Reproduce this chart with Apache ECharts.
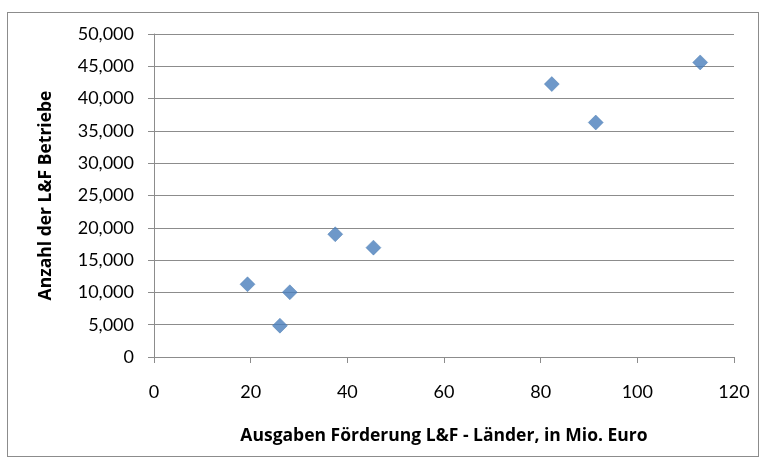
<!DOCTYPE html>
<html>
<head>
<meta charset="utf-8">
<script src="https://cdn.jsdelivr.net/npm/echarts@6/dist/echarts.min.js"></script>
<style>
  html, body { margin: 0; padding: 0; background: #ffffff; }
  #frame { position: absolute; left: 7px; top: 12px; width: 752px; height: 445px; border: 1px solid #8c8c8c; box-sizing: border-box; }
  #chart { position: absolute; left: 0; top: 0; width: 762px; height: 462px; }
</style>
</head>
<body>
<div id="frame"></div>
<div id="chart"></div>
<script>
// Förderausgaben der Länder (Mio. Euro) gegen Anzahl der L&F Betriebe
const ausgabenMioEuro = [19.35, 26.05, 28.1, 37.5, 45.4, 82.3, 91.4, 113.0];
const anzahlBetriebe  = [11260, 4850, 10020, 19000, 16930, 42250, 36300, 45600];

const xTicks = { min: 0, max: 120, interval: 20 };
const yTicks = { min: 0, max: 50000, interval: 5000 };

const xTitle = 'Ausgaben Förderung L&F - Länder, in Mio. Euro';
const yTitle = 'Anzahl der L&F Betriebe';

const points = ausgabenMioEuro.map((x, i) => [x, anzahlBetriebe[i]]);

const labelFont = 'Lato, "Open Sans", sans-serif';
const titleFont = '"Open Sans", Lato, sans-serif';
const gridColor = '#8c8c8c';

const chart = echarts.init(document.getElementById('chart'), null, { renderer: 'canvas' });
chart.setOption({
  animation: false,
  backgroundColor: 'transparent',
  grid: { left: 154, right: 28, top: 34, bottom: 105, containLabel: false },
  xAxis: {
    type: 'value',
    min: xTicks.min, max: xTicks.max, interval: xTicks.interval,
    name: xTitle,
    nameLocation: 'middle',
    nameGap: 70,
    nameTextStyle: { fontFamily: titleFont, fontWeight: 'bold', fontSize: 17.5, color: '#000' },
    axisLine: { show: true, lineStyle: { color: gridColor, width: 1 } },
    axisTick: { show: true, inside: false, length: 6, lineStyle: { color: gridColor } },
    axisLabel: { margin: 26, fontFamily: labelFont, fontSize: 18, color: '#000' },
    splitLine: { show: false }
  },
  yAxis: {
    type: 'value',
    min: yTicks.min, max: yTicks.max, interval: yTicks.interval,
    name: yTitle,
    nameLocation: 'middle',
    nameGap: 99,
    nameTextStyle: { fontFamily: titleFont, fontWeight: 'bold', fontSize: 17.5, color: '#000' },
    axisLine: { show: true, lineStyle: { color: gridColor, width: 1 } },
    axisTick: { show: true, inside: false, length: 6, lineStyle: { color: gridColor } },
    axisLabel: {
      margin: 20, fontFamily: labelFont, fontSize: 18, color: '#000',
      formatter: v => v.toLocaleString('en-US')
    },
    splitLine: { show: true, lineStyle: { color: gridColor, width: 1 } }
  },
  series: [{
    type: 'scatter',
    data: points,
    symbol: 'diamond',
    symbolSize: [15, 15],
    itemStyle: { color: '#4a7ebb', borderColor: '#3f72ad', borderWidth: 0.5 }
  }]
});
</script>
</body>
</html>
